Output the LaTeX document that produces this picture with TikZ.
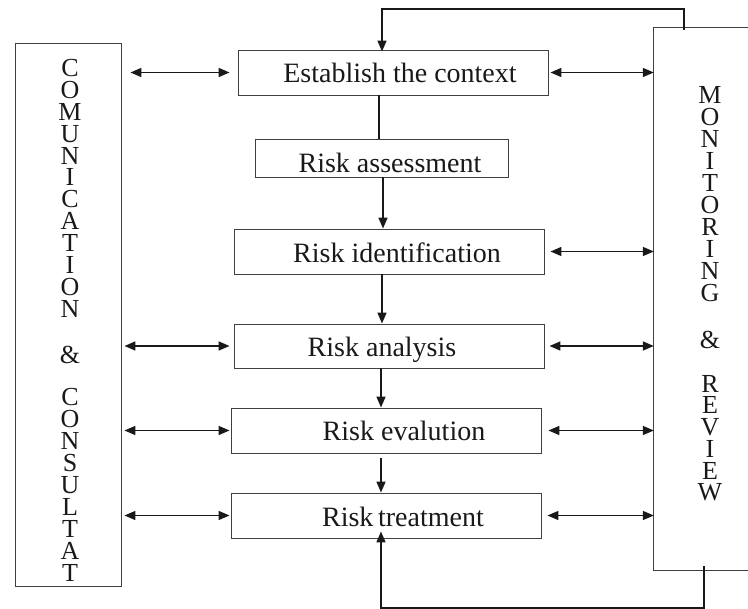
\documentclass[tikz,border=0pt]{standalone}
\usepackage{fontspec}
\setmainfont{Liberation Serif}
\usetikzlibrary{arrows.meta}
\begin{document}
\begin{tikzpicture}[x=1pt,y=-1pt,
  box/.style={draw=black!75, line width=0.9pt, rectangle, inner sep=0pt},
  lbl/.style={font=\fontsize{28}{30}\selectfont, inner sep=0pt, anchor=base, text=black!90},
  vstack/.style={align=center, inner sep=0pt, anchor=north, text=black!90},
  conn/.style={line width=1.5pt, draw=black!90},
  tip/.style={-{Triangle[length=11pt,width=9pt]}},
  both/.style={{Triangle[length=11pt,width=9pt]}-{Triangle[length=11pt,width=9pt]}}
]
\useasboundingbox (0,0) rectangle (748,609);

% side boxes
\node[box, minimum width=106pt, minimum height=543pt] (comm) at (68,314.5) {};
\node[inner sep=0pt, minimum width=94pt, minimum height=542pt] (mon) at (701,299) {};
\draw[draw=black!75, line width=0.9pt] (mon.north east) -- (mon.north west) -- (mon.south west) -- (mon.south east);

% vertical texts
\node[vstack, font=\fontsize{26}{21.9}\selectfont] (c1) at (70,59) {C\\O\\M\\U\\N\\I\\C\\A\\T\\I\\O\\N};
\node[lbl, font=\fontsize{26}{24}\selectfont] (c2) at (70,364) {\&};
\node[vstack, font=\fontsize{26}{22}\selectfont] (c3) at (70,388) {C\\O\\N\\S\\U\\L\\T\\A\\T};
\node[vstack, font=\fontsize{26}{22}\selectfont] (m1) at (710,86) {M\\O\\N\\I\\T\\O\\R\\I\\N\\G};
\node[lbl, font=\fontsize{26}{24}\selectfont] (m2) at (710,349) {\&};
\node[vstack, font=\fontsize{26}{21.7}\selectfont] (m3) at (710,375) {R\\E\\V\\I\\E\\W};

% process boxes
\node[box, minimum width=310pt, minimum height=45pt] (est) at (393,72.5) {};
\node[box, minimum width=253pt, minimum height=38pt] (ass) at (381.5,158) {};
\node[box, minimum width=310pt, minimum height=45pt] (ide) at (389,251.5) {};
\node[box, minimum width=310pt, minimum height=44pt] (ana) at (389,346) {};
\node[box, minimum width=310pt, minimum height=45pt] (eva) at (386,430.5) {};
\node[box, minimum width=310pt, minimum height=45pt] (tre) at (386,515.5) {};

\node[lbl] (estT) at (400,83) {Establish the context};
\node[lbl] (assT) at (390,173) {Risk assessment};
\node[lbl] (ideT) at (397,263) {Risk identification};
\node[lbl] (anaT) at (382,357) {Risk analysis};
\node[lbl] (evaT) at (404,441) {Risk evalution};
\node[lbl] (treT) at (403,527) {Risk\,treatment};

% spine
\coordinate (t1) at (684,9);
\coordinate (b1) at (704,608);
\draw[conn] ([xshift=-14pt]est.south) -- ([xshift=-14pt]est.south |- ass.north);
\draw[conn,tip] ([xshift=1.5pt]ass.south) -- ([xshift=1.5pt]ass.south |- ide.north);
\draw[conn,tip] ([xshift=-7pt]ide.south) -- ([xshift=-7pt]ide.south |- ana.north);
\draw[conn,tip] ([xshift=-8pt]ana.south) -- ([xshift=-8pt]ana.south |- eva.north);
\draw[conn,tip] ([xshift=-5pt,yshift=-5pt]eva.south) -- ([xshift=-5pt]eva.south |- tre.north);

% feedback loops
\draw[conn,tip] ([yshift=-2pt]mon.north -| t1) -- (t1) -| ([xshift=-11pt,yshift=-2pt]est.north);
\draw[conn,tip] ([yshift=4pt]mon.south -| b1) -- (b1) -| ([xshift=-5pt,yshift=7pt]tre.south);

% left double arrows
\draw[conn,both,shorten <=9pt,shorten >=8pt] (comm.east |- est.west) -- (est.west);
\draw[conn,both,shorten <=3pt,shorten >=4pt] (comm.east |- ana.west) -- (ana.west);
\draw[conn,both,shorten <=3pt,shorten >=1pt] (comm.east |- eva.west) -- (eva.west);
\draw[conn,both,shorten <=3pt,shorten >=1pt] (comm.east |- tre.west) -- (tre.west);

% right double arrows
\draw[conn,both,shorten <=2pt] (est.east) -- (mon.west |- est.east);
\draw[conn,both,shorten <=6pt] (ide.east) -- (mon.west |- ide.east);
\draw[conn,both,shorten <=5pt] (ana.east) -- (mon.west |- ana.east);
\draw[conn,both,shorten <=7pt] (eva.east) -- (mon.west |- eva.east);
\draw[conn,both,shorten <=6pt] (tre.east) -- (mon.west |- tre.east);
\end{tikzpicture}
\end{document}
